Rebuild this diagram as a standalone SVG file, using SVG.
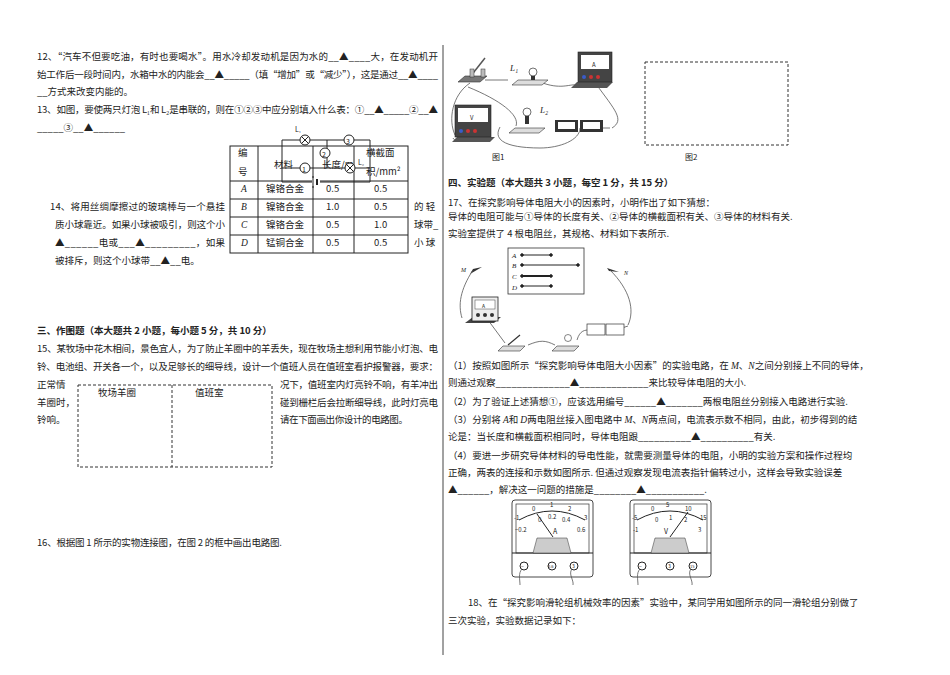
<svg xmlns="http://www.w3.org/2000/svg" width="950" height="675" viewBox="0 0 950 675">
<style>
text{font-family:"Noto Sans CJK SC","Liberation Serif",serif;font-size:9.5px;fill:#222}
.b{font-weight:bold}
.s{font-family:"Liberation Serif",serif;font-style:italic}
.l{stroke:#222;stroke-width:1;fill:none}
.d{stroke:#333;stroke-width:1;fill:none;stroke-dasharray:3,2}
.t{stroke:#555;stroke-width:0.8;fill:none}
.c{fill:#fff;stroke:#222;stroke-width:1}
</style>
<rect width="950" height="675" fill="#fff"/>
<line x1="443" y1="45" x2="443" y2="655" stroke="#444" stroke-width="1"/>

<g id="q12">
<text x="37" y="60" textLength="401" lengthAdjust="spacing">12、“汽车不但要吃油，有时也要喝水”。用水冷却发动机是因为水的__▲____大，在发动机开</text>
<text x="37" y="78" textLength="401" lengthAdjust="spacing">始工作后一段时间内，水箱中水的内能会__▲_____（填“增加”或“减少”），这是通过__▲____</text>
<text x="37" y="95">__方式来改变内能的。</text>
</g>
<g id="q13">
<text x="37" y="113" textLength="401" lengthAdjust="spacing">13、如图，要使两只灯泡 L₁和 L₂是串联的，则在①②③中应分别填入什么表：①__▲_____②__▲</text>
<text x="37" y="131">_____③__▲______</text>
</g>
<g id="table">
<rect x="230" y="146" width="178" height="107" class="l"/>
<line x1="230" y1="181" x2="408" y2="181" class="l"/>
<line x1="230" y1="199" x2="408" y2="199" class="l"/>
<line x1="230" y1="217" x2="408" y2="217" class="l"/>
<line x1="230" y1="235" x2="408" y2="235" class="l"/>
<line x1="258" y1="146" x2="258" y2="253" class="l"/>
<line x1="313" y1="146" x2="313" y2="253" class="l"/>
<line x1="354" y1="146" x2="354" y2="253" class="l"/>
<text x="238" y="156">编</text><text x="238" y="175">号</text>
<text x="274" y="168">材料</text>
<text x="322" y="168">长度/m</text>
<text x="366" y="156">横截面</text><text x="366" y="175">积/mm²</text>
<text x="241" y="192" class="s">A</text><text x="241" y="210" class="s">B</text><text x="241" y="228" class="s">C</text><text x="241" y="246" class="s">D</text>
<text x="266" y="192">镍铬合金</text><text x="266" y="210">镍铬合金</text><text x="266" y="228">镍铬合金</text><text x="266" y="246">锰铜合金</text>
<text x="326" y="192">0.5</text><text x="326" y="210">1.0</text><text x="326" y="228">0.5</text><text x="326" y="246">0.5</text>
<text x="374" y="192">0.5</text><text x="374" y="210">0.5</text><text x="374" y="228">1.0</text><text x="374" y="246">0.5</text>
</g>
<g id="circuit13">
<path d="M282 140 H370 V182 H282 Z" class="l"/>
<line x1="327" y1="140" x2="327" y2="168" class="l"/>
<line x1="282" y1="168" x2="370" y2="168" class="l"/>
<rect x="312" y="178" width="8" height="8" fill="#fff"/>
<line x1="313" y1="176" x2="313" y2="188" class="l"/><line x1="317" y1="179" x2="317" y2="185" stroke="#222" stroke-width="2"/>
<circle cx="305" cy="140" r="5" class="c"/><path d="M301.5 136.5l7 7M308.5 136.5l-7 7" class="l"/>
<circle cx="350" cy="168" r="5" class="c"/><path d="M346.5 164.5l7 7M353.5 164.5l-7 7" class="l"/>
<circle cx="349" cy="140" r="5" class="c"/><text x="346" y="143.5" style="font-size:7px">3</text>
<circle cx="325" cy="153" r="5" class="c"/><text x="322" y="156.5" style="font-size:7px">2</text>
<circle cx="305" cy="168" r="5" class="c"/><text x="302" y="171.5" style="font-size:7px">1</text>
<text x="295" y="132" style="font-size:7px">L₁</text>
<text x="358" y="165" style="font-size:7px">L₂</text>
</g>
<g id="q14">
<text x="50" y="210" textLength="175" lengthAdjust="spacing">14、将用丝绸摩擦过的玻璃棒与一个悬挂</text>
<text x="55" y="228" textLength="170" lengthAdjust="spacing">质小球靠近。如果小球被吸引，则这个小</text>
<text x="55" y="246" textLength="170" lengthAdjust="spacing">▲______电或___▲_________，如果</text>
<text x="55" y="264">被排斥，则这个小球带__▲__电。</text>
<text x="414" y="210">的 轻</text>
<text x="414" y="228">球带_</text>
<text x="414" y="246">小 球</text>
</g>

<g id="sec3">
<text x="37" y="334" class="b">三、作图题（本大题共 2 小题，每小题 5 分，共 10 分）</text>
<text x="37" y="352" textLength="401" lengthAdjust="spacing">15、某牧场中花木相间，景色宜人，为了防止羊圈中的羊丢失，现在牧场主想利用节能小灯泡、电</text>
<text x="37" y="370" textLength="401" lengthAdjust="spacing">铃、电池组、开关各一个，以及足够长的细导线，设计一个值班人员在值班室看护报警器，要求：</text>
<text x="37" y="388">正常情</text><text x="37" y="406">羊圈时，</text><text x="37" y="423">铃响。</text>
<text x="280" y="388" textLength="158" lengthAdjust="spacing">况下，值班室内灯亮铃不响，有羊冲出</text>
<text x="280" y="406" textLength="158" lengthAdjust="spacing">碰到栅栏后会拉断细导线，此时灯亮电</text>
<text x="280" y="423" textLength="128" lengthAdjust="spacing">请在下面画出你设计的电路图。</text>
<rect x="78" y="385" width="194" height="82" class="d"/>
<line x1="172" y1="385" x2="172" y2="467" class="d"/>
<text x="98" y="396">牧场羊圈</text><text x="195" y="396">值班室</text>
<text x="37" y="546" textLength="245" lengthAdjust="spacing">16、根据图 1 所示的实物连接图，在图 2 的框中画出电路图.</text>
</g>

<g id="fig1">
<path d="M470 83 C452 95 448 120 455 135 M468 87 C500 100 520 115 516 126 M485 80 H508 M540 82 C560 90 570 84 575 85 M596 84 C615 110 625 120 612 128 M596 128 H610 M500 127 C490 145 520 148 540 148 C560 148 580 140 580 128 M453 138 C455 142 460 142 462 140" class="t"/>
<path d="M458 82 l7 -6 h22 l-7 6 z" fill="#777" stroke="#333" stroke-width="0.6"/>
<line x1="470" y1="77" x2="485" y2="58" stroke="#555" stroke-width="1.5"/>
<rect x="470" y="69" width="4" height="8" fill="#bbb" stroke="#333" stroke-width="0.5"/>
<rect x="481" y="69" width="4" height="8" fill="#bbb" stroke="#333" stroke-width="0.5"/>
<path d="M512 85 l6 -5 h30 l-6 5 z" fill="#ddd" stroke="#333" stroke-width="0.6"/>
<circle cx="533" cy="72" r="4" fill="#fff" stroke="#333" stroke-width="0.7"/><rect x="531" y="76" width="4" height="4" fill="#333"/>
<text x="510" y="71" class="s" style="font-size:9px">L₁</text>
<path d="M571 88 l6 -6 h36 l-6 6 z" fill="#555"/>
<rect x="578" y="52" width="34" height="30" fill="#444" stroke="#222" stroke-width="0.6"/>
<rect x="581" y="55" width="28" height="14" fill="#fff"/><text x="592" y="67" style="font-size:6px">A</text>
<circle cx="584" cy="77" r="2" fill="#3a5cc9"/><circle cx="591" cy="77" r="2" fill="#c33"/><circle cx="598" cy="77" r="2" fill="#c33"/>
<path d="M509 133 l6 -5 h30 l-6 5 z" fill="#ddd" stroke="#333" stroke-width="0.6"/>
<circle cx="527" cy="112" r="4" fill="#fff" stroke="#333" stroke-width="0.7"/><rect x="525" y="116" width="4" height="8" fill="#333"/>
<text x="540" y="113" class="s" style="font-size:9px">L₂</text>
<rect x="555" y="120" width="23" height="12" fill="#333"/><rect x="558" y="122" width="17" height="7" fill="#fff"/>
<rect x="580" y="120" width="23" height="12" fill="#333"/><rect x="583" y="122" width="17" height="7" fill="#fff"/>
<path d="M452 142 l5 -5 h38 l-5 5 z" fill="#555"/>
<rect x="455" y="105" width="36" height="32" fill="#444" stroke="#222" stroke-width="0.6"/>
<rect x="458" y="108" width="30" height="14" fill="#fff"/><text x="470" y="120" style="font-size:6px">V</text>
<circle cx="461" cy="131" r="2" fill="#3a5cc9"/><circle cx="468" cy="131" r="2" fill="#c33"/><circle cx="475" cy="131" r="2" fill="#c33"/>
<text x="492" y="160" style="font-size:8px">图1</text>
<rect x="645" y="62" width="143" height="83" class="d"/>
<text x="685" y="160" style="font-size:8px">图2</text>
</g>

<g id="sec4">
<text x="448" y="186" class="b">四、实验题（本大题共 3 小题，每空 1 分，共 15 分）</text>
<text x="448" y="206">17、在探究影响导体电阻大小的因素时，小明作出了如下猜想：</text>
<text x="448" y="220">导体的电阻可能与①导体的长度有关、②导体的横截面积有关、③导体的材料有关.</text>
<text x="448" y="237">实验室提供了 4 根电阻丝，其规格、材料如下表所示.</text>
</g>
<g id="fig17">
<rect x="508" y="248" width="76" height="46" fill="#fff" stroke="#333" stroke-width="0.8"/>
<text x="512" y="258" class="s" style="font-size:7px">A</text><text x="512" y="268" class="s" style="font-size:7px">B</text><text x="512" y="279" class="s" style="font-size:7px">C</text><text x="512" y="290" class="s" style="font-size:7px">D</text>
<g stroke="#222" fill="#222">
<line x1="522" y1="255" x2="551" y2="255"/><circle cx="522" cy="255" r="1.3"/><circle cx="551" cy="255" r="1.3"/>
<line x1="522" y1="265" x2="578" y2="265"/><circle cx="522" cy="265" r="1.3"/><circle cx="578" cy="265" r="1.3"/>
<line x1="522" y1="276" x2="551" y2="276" stroke-width="2"/><circle cx="522" cy="276" r="1.3"/><circle cx="551" cy="276" r="1.3"/>
<line x1="522" y1="286" x2="551" y2="286"/><circle cx="522" cy="286" r="1.3"/><circle cx="551" cy="286" r="1.3"/>
</g>
<text x="461" y="272" class="s" style="font-size:6px">M</text><text x="624" y="275" class="s" style="font-size:6px">N</text>
<path d="M470 274 l12 -7 l-9 2 z M607 268 l12 4 l-10 -1 z" fill="#333"/>
<path d="M473 270 C460 290 458 305 462 318 M610 270 C630 290 635 310 628 325 M488 320 L505 343 M528 345 C540 340 545 340 555 345 M577 340 C580 330 585 330 590 330 M622 328 L628 326" class="t"/>
<path d="M465 323 l8 -6 h28 l-7 6 z" fill="#444"/>
<rect x="472" y="297" width="26" height="24" fill="#eee" stroke="#222" stroke-width="0.8"/>
<rect x="475" y="300" width="20" height="9" fill="#fff" stroke="#444" stroke-width="0.5"/><text x="482" y="308" style="font-size:5px">A</text>
<circle cx="478" cy="315" r="2" fill="#333"/><circle cx="485" cy="315" r="2" fill="#333"/><circle cx="492" cy="315" r="2" fill="#333"/>
<path d="M498 351 l5 -5 h22 l-5 5 z" fill="#ddd" stroke="#333" stroke-width="0.6"/>
<line x1="508" y1="345" x2="520" y2="335" stroke="#333" stroke-width="1.2"/>
<path d="M552 351 l5 -5 h22 l-5 5 z" fill="#ddd" stroke="#333" stroke-width="0.6"/>
<circle cx="568" cy="338" r="3.5" fill="#fff" stroke="#333" stroke-width="0.6"/>
<rect x="587" y="324" width="18" height="11" fill="#fff" stroke="#333" stroke-width="0.7"/>
<rect x="606" y="324" width="18" height="11" fill="#fff" stroke="#333" stroke-width="0.7"/>
</g>
<g id="q17text">
<text x="448" y="369">（1）按照如图所示“探究影响导体电阻大小因素”的实验电路，在 <tspan class="s">M</tspan>、<tspan class="s">N</tspan>之间分别接上不同的导体，</text>
<text x="448" y="386">则通过观察______________▲_____________来比较导体电阻的大小.</text>
<text x="448" y="405">（2）为了验证上述猜想①，应该选用编号______▲_______两根电阻丝分别接入电路进行实验.</text>
<text x="448" y="423">（3）分别将 <tspan class="s">A</tspan>和 <tspan class="s">D</tspan>两电阻丝接入图电路中 <tspan class="s">M</tspan>、<tspan class="s">N</tspan>两点间，电流表示数不相同，由此，初步得到的结</text>
<text x="448" y="440">论是：当长度和横截面积相同时，导体电阻跟__________▲__________有关.</text>
<text x="448" y="459">（4）要进一步研究导体材料的导电性能，就需要测量导体的电阻，小明的实验方案和操作过程均</text>
<text x="448" y="476">正确，两表的连接和示数如图所示. 但通过观察发现电流表指针偏转过小，这样会导致实验误差</text>
<text x="448" y="493">▲______，解决这一问题的措施是________▲___________.</text>
</g>
<g id="meterA">
<rect x="512" y="500" width="81" height="77" rx="3" fill="#fff" stroke="#333" stroke-width="0.9"/>
<rect x="516" y="504" width="73" height="49" fill="#fff" stroke="#333" stroke-width="0.7"/>
<line x1="512" y1="553" x2="593" y2="553" class="l"/>
<path d="M519 520 Q552 502 585 520" class="l"/>
<path d="M537 538 h30 l4 15 h-38 z" fill="#ccc" stroke="#333" stroke-width="0.5"/>
<line x1="537" y1="514" x2="553" y2="537" class="l"/>
<text x="514" y="520" style="font-size:6px">-1</text><text x="532" y="511" style="font-size:6px">0</text><text x="550" y="507" style="font-size:6px">1</text><text x="568" y="511" style="font-size:6px">2</text><text x="584" y="520" style="font-size:6px">3</text>
<text x="515" y="532" style="font-size:6px">−0.2</text><text x="538" y="522" style="font-size:6px">0</text><text x="548" y="519" style="font-size:6px">0.2</text><text x="562" y="522" style="font-size:6px">0.4</text><text x="577" y="532" style="font-size:6px">0.6</text>
<text x="553" y="534" style="font-size:7px">A</text>
<circle cx="524" cy="566" r="4" class="c"/><circle cx="552" cy="566" r="4" class="c"/><circle cx="574" cy="566" r="4" class="c"/>
<text x="521" y="568" style="font-size:5px">−</text><text x="548" y="568" style="font-size:4px">0.6</text><text x="572" y="568" style="font-size:5px">3</text>
<path d="M522 569 C518 573 520 580 520 585 M572 569 C568 574 574 580 573 585" class="t"/>
</g>
<g id="meterV">
<rect x="630" y="500" width="81" height="77" rx="3" fill="#fff" stroke="#333" stroke-width="0.9"/>
<rect x="634" y="504" width="73" height="49" fill="#fff" stroke="#333" stroke-width="0.7"/>
<line x1="630" y1="553" x2="711" y2="553" class="l"/>
<path d="M637 520 Q670 502 703 520" class="l"/>
<path d="M655 538 h30 l4 15 h-38 z" fill="#ccc" stroke="#333" stroke-width="0.5"/>
<line x1="688" y1="512" x2="670" y2="537" class="l"/>
<text x="632" y="520" style="font-size:6px">-5</text><text x="651" y="511" style="font-size:6px">0</text><text x="666" y="507" style="font-size:6px">5</text><text x="685" y="511" style="font-size:6px">10</text><text x="700" y="520" style="font-size:6px">15</text>
<text x="633" y="532" style="font-size:6px">-1</text><text x="655" y="522" style="font-size:6px">0</text><text x="669" y="520" style="font-size:6px">1</text><text x="684" y="522" style="font-size:6px">2</text><text x="698" y="532" style="font-size:6px">3</text>
<text x="664" y="534" style="font-size:7px">V</text>
<circle cx="642" cy="566" r="4" class="c"/><circle cx="670" cy="566" r="4" class="c"/><circle cx="693" cy="566" r="4" class="c"/>
<text x="639" y="568" style="font-size:5px">−</text><text x="668" y="568" style="font-size:5px">3</text><text x="690" y="568" style="font-size:4px">15</text>
<path d="M640 569 C636 573 638 580 638 585 M691 569 C687 574 693 580 692 585" class="t"/>
</g>
<g id="q18">
<text x="468" y="606">18、在“探究影响滑轮组机械效率的因素”实验中，某同学用如图所示的同一滑轮组分别做了</text>
<text x="448" y="624">三次实验，实验数据记录如下：</text>
</g>
</svg>
